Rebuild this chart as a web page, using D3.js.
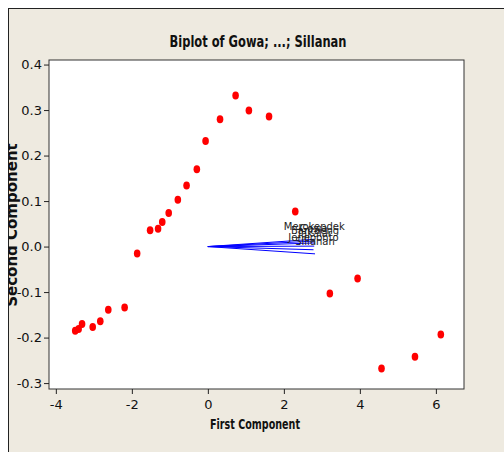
<!DOCTYPE html>
<html>
<head>
<meta charset="utf-8">
<script src="https://cdn.jsdelivr.net/npm/d3@7"></script>
<style>
  body { margin: 0; background: #fff; }
  text { font-family: "DejaVu Sans", sans-serif; }
</style>
</head>
<body>
<script>
// scores (first component, second component)
var scoreX = [-3.49, -3.40, -3.31, -3.03, -2.83, -2.62, -2.19, -1.86, -1.52, -1.31, -1.20, -1.03, -0.79,
              -0.56, -0.29, -0.06, 0.32, 0.73, 1.08, 1.61, 2.30, 3.21, 3.94, 4.57, 5.45, 6.13];
var scoreY = [-0.185, -0.181, -0.170, -0.177, -0.164, -0.139, -0.134, -0.015, 0.036, 0.039, 0.054, 0.074, 0.103,
              0.134, 0.170, 0.232, 0.280, 0.332, 0.299, 0.286, 0.077, -0.103, -0.070, -0.268, -0.242, -0.193];

// loading vectors
var varNames = ["Merokendek", "Gowa", "Bantaeng", "Takalar", "Jeneponto", "Sillanan"];
var loadX = [2.80, 2.78, 2.82, 2.80, 2.78, 2.82];
var loadY = [0.016, 0.012, 0.008, 0.001, -0.007, -0.016];

var xTicks = [-4, -2, 0, 2, 4, 6];
var yTicks = [-0.3, -0.2, -0.1, 0.0, 0.1, 0.2, 0.3, 0.4];

var W = 504, H = 452;
var margin = {top: 60, right: 40, bottom: 63, left: 49},
    width = W - margin.left - margin.right,
    height = H - margin.top - margin.bottom;

var svg = d3.select("body").append("svg")
    .attr("width", W)
    .attr("height", H);

// beige frame
svg.append("clipPath").attr("id", "frame")
  .append("rect").attr("x", 8.5).attr("y", 8.5).attr("width", W).attr("height", H);
svg.append("rect")
    .attr("x", 8.5).attr("y", 8.5)
    .attr("width", W).attr("height", H)
    .attr("fill", "#eeeae0")
    .attr("stroke", "#222");

var x = d3.scaleLinear().domain([-4.18, 6.74]).range([0, width]);
var y = d3.scaleLinear().domain([-0.313, 0.41]).range([height, 0]);

var g = svg.append("g")
    .attr("transform", "translate(" + margin.left + "," + margin.top + ")");

g.append("rect")
    .attr("width", width).attr("height", height)
    .attr("fill", "#fff");

// loading vectors
var vecs = varNames.map(function(n, i) { return {name: n, x: loadX[i], y: loadY[i]}; });
g.selectAll(".vec").data(vecs).enter().append("line")
    .attr("class", "vec")
    .attr("x1", x(0)).attr("y1", y(0))
    .attr("x2", function(d) { return x(d.x); })
    .attr("y2", function(d) { return y(d.y); })
    .attr("stroke", "#0000ff")
    .attr("stroke-width", 1);

g.selectAll(".vlab").data(vecs).enter().append("text")
    .attr("class", "vlab")
    .attr("x", function(d) { return x(d.x); })
    .attr("y", function(d) { return y(d.y) - 9; })
    .attr("text-anchor", "middle")
    .style("font-size", "10px")
    .attr("fill", "#222")
    .text(function(d) { return d.name; });

// scores
var pts = scoreX.map(function(v, i) { return {x: v, y: scoreY[i]}; });
g.selectAll(".pt").data(pts).enter().append("ellipse")
    .attr("class", "pt")
    .attr("cx", function(d) { return x(d.x); })
    .attr("cy", function(d) { return y(d.y); })
    .attr("rx", 3.3).attr("ry", 4)
    .attr("fill", "#ff0000");

// box
g.append("rect")
    .attr("width", width).attr("height", height)
    .attr("fill", "none")
    .attr("stroke", "#333");

// axes
var fmtX = function(d) { return d3.format("d")(d).replace("\u2212", "-"); };
var fmtY = function(d) { return d3.format(".1f")(d).replace("\u2212", "-"); };
var xAxis = g.append("g")
    .attr("transform", "translate(0," + height + ")")
    .call(d3.axisBottom(x).tickValues(xTicks).tickSize(5).tickFormat(fmtX));
var yAxis = g.append("g")
    .call(d3.axisLeft(y).tickValues(yTicks).tickSize(5).tickFormat(fmtY));
[xAxis, yAxis].forEach(function(a) {
  a.select(".domain").remove();
  a.selectAll("line").attr("stroke", "#222");
  a.selectAll("text")
    .style("font-size", "13px")
    .style("font-family", "'DejaVu Sans', sans-serif")
    .attr("fill", "#111");
});
xAxis.selectAll("text").attr("dy", "0.9em");
yAxis.selectAll("text").attr("x", -7);

// titles (squeezed to the narrow look of the original)
svg.append("text")
    .attr("x", 258).attr("y", 47)
    .attr("text-anchor", "middle")
    .attr("textLength", 177).attr("lengthAdjust", "spacingAndGlyphs")
    .style("font-size", "16px").style("font-weight", "bold")
    .attr("fill", "#111")
    .text("Biplot of Gowa; ...; Sillanan");

svg.append("text")
    .attr("x", 255).attr("y", 429)
    .attr("text-anchor", "middle")
    .attr("textLength", 90).attr("lengthAdjust", "spacingAndGlyphs")
    .style("font-size", "14px").style("font-weight", "bold")
    .attr("fill", "#111")
    .text("First Component");

svg.append("g").attr("clip-path", "url(#frame)")
  .append("text")
    .attr("transform", "translate(17,225) rotate(-90)")
    .attr("text-anchor", "middle")
    .style("font-size", "15px").style("font-weight", "bold")
    .attr("fill", "#111")
    .text("Second Component");
</script>
</body>
</html>
